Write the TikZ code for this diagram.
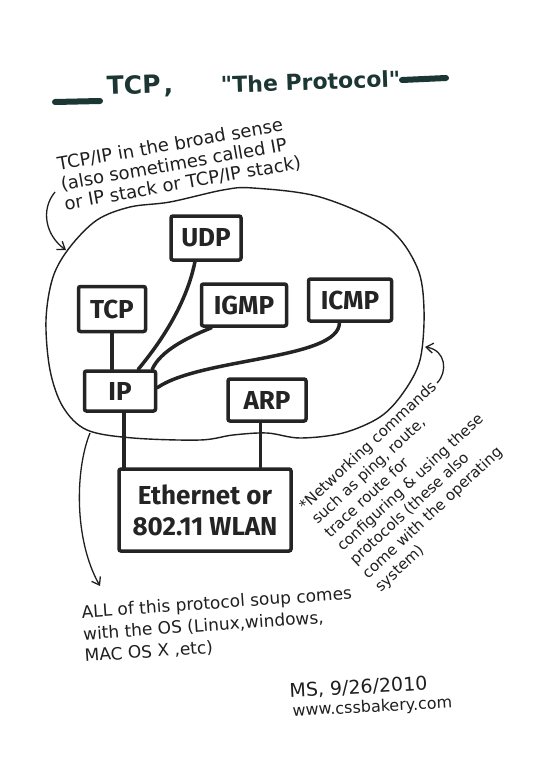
\documentclass[tikz,border=0pt]{standalone}
\usepackage{fontspec}
\setmainfont{DejaVu Sans}
\newfontfamily\boxfont{Fira Sans}
\newfontfamily\titlefont{DejaVu Sans}[Ligatures=TeXOff]
\usetikzlibrary{arrows.meta, positioning}
\definecolor{ink}{HTML}{242424}
\definecolor{marker}{HTML}{1C3634}
\definecolor{pen}{HTML}{1F1F1F}

\begin{document}
\begin{tikzpicture}[x=1pt, y=-1pt, box/.style={draw=ink, line width=3.5pt, rounded corners=2pt, minimum height=43pt, inner sep=0pt, text=ink, font=\boxfont\bfseries\fontsize{26}{31}\selectfont}, link/.style={draw=ink, line width=3.5pt, line cap=round}, pen/.style={draw=pen, line width=1.3pt}, note/.style={text=pen, align=left, inner sep=0pt, anchor=north west}, title/.style={text=marker, anchor=base west, rotate=2, inner sep=0pt, font=\titlefont\bfseries\fontsize{22}{28}\selectfont}, hand arrow/.style={pen, -{Straight Barb[length=7pt, width=10pt]}}]
    \fill[white] (0,0) rectangle (550,768);
    \useasboundingbox (0,0) rectangle (550,768);

    % Title
    \draw[marker, line width=6pt, line cap=round] (55,102) -- (100,101);
    \node[title, font=\titlefont\bfseries\fontsize{25}{28}\selectfont] (ttcp) at (107,95) {TCP\hspace{3pt},};
    \node[title] (tproto) at (221,93) {"The Protocol"};
    \draw[marker, line width=6pt, line cap=round] (402,80) -- (446,78);

    % Stack
    \draw[pen, line width=1.4pt] plot[smooth cycle, tension=0.55] coordinates {(223,190) (253,188) (320,197) (387,227) (417,267) (424,310) (420,360) (403,393) (380,417) (343,433) (300,438) (267,433) (233,435) (200,440) (133,438) (87,430) (63,407) (50,370) (46,320) (53,277) (70,247) (97,220) (130,207) (170,202)};
    \node[box, minimum width=70pt, minimum height=44pt] (udp) at (206,238) {UDP};
    \node[box, minimum width=67pt, minimum height=45pt] (tcp) at (112,309) {TCP};
    \node[box, minimum width=85pt, minimum height=42pt] (igmp) at (244,305) {IGMP};
    \node[box, minimum width=83pt, minimum height=42pt] (icmp) at (350,300) {ICMP};
    \node[box, minimum width=71pt, minimum height=40pt, below=36pt of tcp, xshift=8pt] (ip) {IP};
    \node[box, minimum width=78pt, minimum height=42pt] (arp) at (267,400) {ARP};
    \node[box, minimum width=172pt, minimum height=82pt, align=center] (eth) at (205,510) {Ethernet or\\802.11 WLAN};
    \draw[link] (tcp.south) -- (tcp.south |- ip.north);
    \draw[link] (udp.-115) .. controls +(-8,40) and +(25,-30) .. (ip.50);
    \draw[link] (igmp.-145) .. controls +(-25,10) and +(8,-18) .. (ip.34);
    \draw[link] (icmp.-115) .. controls +(0,37) and +(43,-30) .. (ip.5);
    \draw[link] (ip.-80) -- (ip.-80 |- eth.north);
    \draw[link] (arp.-106) -- (arp.-106 |- eth.north);

    % Notes
    \node[note, rotate=10, font=\fontsize{18}{20}\selectfont] (broad) at (56,157) {TCP/IP in the broad sense\\(also sometimes called IP\\or IP stack or TCP/IP stack)};
    \coordinate (broad tail) at (55,192);
    \coordinate (broad tip) at (66,250);
    \draw[hand arrow] (broad tail) .. controls (40,210) and (46,236) .. (broad tip);

    \node[note, rotate=43, font=\fontsize{15}{18.5}\selectfont] (cmds) at (297,503) {*Networking commands\\such as ping, route,\\trace route for\\configuring \& using these\\protocols (these also\\come with the operating\\system)};
    \coordinate (cmds tail) at (437,383);
    \coordinate (cmds tip) at (425,347);
    \draw[hand arrow] (cmds tail) .. controls (448,372) and (446,350) .. (cmds tip);

    \node[note, rotate=4, font=\fontsize{17}{22}\selectfont] (soup) at (81,605) {ALL of this protocol soup comes\\with the OS (Linux,windows,\\MAC OS X ,etc)};
    \coordinate (soup tail) at (90,433);
    \coordinate (soup tip) at (100,586);
    \draw[hand arrow] (soup tail) .. controls (75,470) and (74,540) .. (soup tip);

    % Signature
    \node[note, rotate=3, font=\fontsize{19}{21}\selectfont] (sign) at (289,683) {MS, 9/26/2010};
    \node[note, rotate=3, font=\fontsize{16}{20}\selectfont] (site) at (292,704) {www.cssbakery.com};
\end{tikzpicture}
\end{document}
